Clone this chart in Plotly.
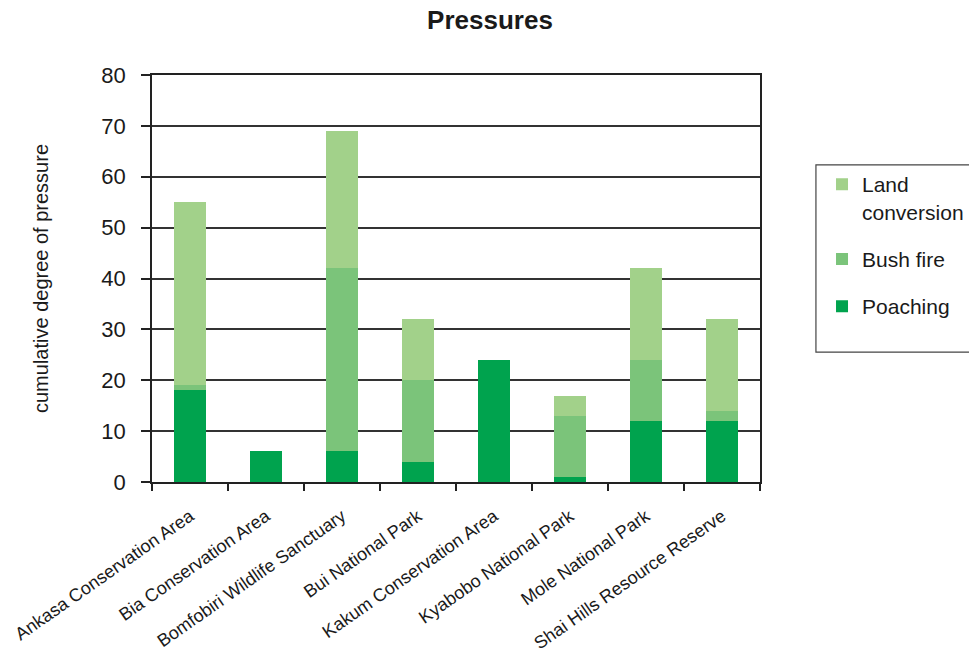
import plotly.graph_objects as go

categories = ["Ankasa Conservation Area", "Bia Conservation Area", "Bomfobiri Wildlife Sanctuary",
              "Bui National Park", "Kakum Conservation Area", "Kyabobo National Park",
              "Mole National Park", "Shai Hills Resource Reserve"]
poaching = [18, 6, 6, 4, 24, 1, 12, 12]
bush_fire = [1, 0, 36, 16, 0, 12, 12, 2]
land_conversion = [36, 0, 27, 12, 0, 4, 18, 18]

FONT = "Liberation Sans, Arial, sans-serif"
TXT = "#1a1a1a"

fig = go.Figure()
fig.add_bar(x=categories, y=poaching, name="Poaching", marker_color="#00A34E",
            marker_line_width=0, legendgroup="g3", legendrank=3)
fig.add_bar(x=categories, y=bush_fire, name="Bush fire", marker_color="#7BC47A",
            marker_line_width=0, legendgroup="g2", legendrank=2)
fig.add_bar(x=categories, y=land_conversion, name="Land<br>conversion", marker_color="#A2D18A",
            marker_line_width=0, legendgroup="g1", legendrank=1)

fig.update_layout(
    barmode="stack",
    bargap=0.59,
    width=969, height=658,
    margin=dict(l=152, r=209, t=75, b=176, autoexpand=False),
    paper_bgcolor="white", plot_bgcolor="white",
    font=dict(family=FONT, color=TXT),
    title=dict(text="<b>Pressures</b>", x=490 / 969, xanchor="center",
               y=1 - 20 / 658, yanchor="middle",
               font=dict(size=26, family=FONT, color=TXT)),
    legend=dict(x=1.102, xanchor="left", y=0.781, yanchor="top",
                font=dict(size=21, family=FONT, color=TXT),
                tracegroupgap=17, bgcolor="rgba(0,0,0,0)", borderwidth=0,
                valign="top", traceorder="grouped"),
    showlegend=True,
)

fig.update_xaxes(
    automargin=False,
    showline=True, linecolor="#222", linewidth=1.5, mirror=True,
    ticks="outside", tickson="boundaries", ticklen=7, tickcolor="#222", tickwidth=1.5,
    ticklabelstandoff=15,
    tickangle=-35, tickfont=dict(size=18, family=FONT, color=TXT),
    showgrid=False,
)
fig.update_yaxes(
    automargin=False,
    range=[0, 80], dtick=10,
    showline=True, linecolor="#222", linewidth=1.5, mirror=True,
    ticks="outside", ticklen=9, tickcolor="#222", tickwidth=1.5,
    ticklabelstandoff=11,
    tickfont=dict(size=22, family=FONT, color=TXT),
    showgrid=True, gridcolor="#333", gridwidth=1.5,
    title=dict(text="cumulative degree of pressure",
               font=dict(size=20, family=FONT, color=TXT), standoff=47),
    zeroline=False,
)

# legend frame
fig.add_shape(type="rect", xref="paper", yref="paper",
              x0=1.092, x1=1.40, y0=0.319, y1=0.779,
              line=dict(color="#444", width=1.2), fillcolor="rgba(0,0,0,0)")

fig.write_html("out.html", config={"displayModeBar": False},
               post_script="document.body.style.margin='0';document.body.style.overflow='hidden';")
